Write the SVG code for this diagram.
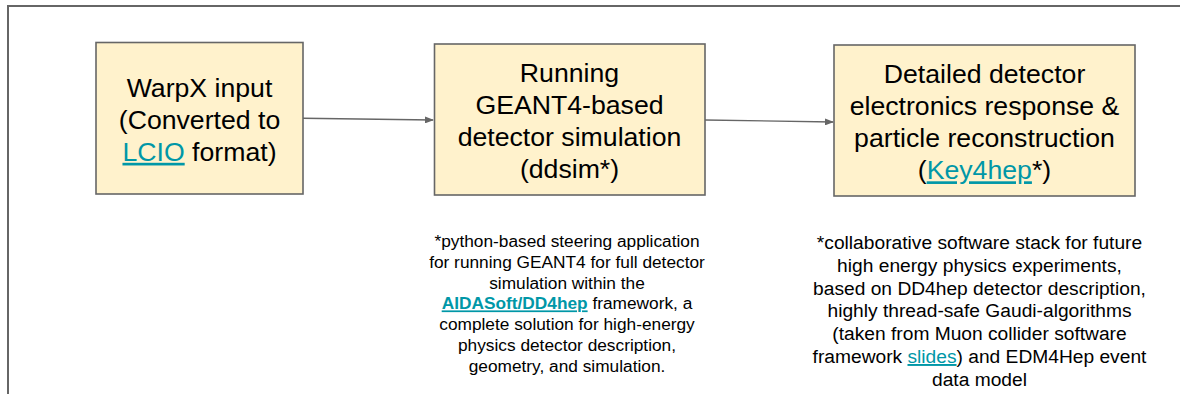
<svg xmlns="http://www.w3.org/2000/svg" width="1180" height="394" viewBox="0 0 1180 394">
<style>
.box{fill:#fff2cc;stroke:#666666;stroke-width:1.6}
.t{font-family:"Liberation Sans",Arial,sans-serif;font-size:26.67px;fill:#000;text-anchor:middle}
.n1{font-family:"Liberation Sans",Arial,sans-serif;font-size:17.3px;fill:#000;text-anchor:middle}
.n2{font-family:"Liberation Sans",Arial,sans-serif;font-size:19.2px;fill:#000;text-anchor:middle}
.link{fill:#0097a7;text-decoration:underline}
.b{font-weight:bold}
.conn{stroke:#666666;stroke-width:1.4;fill:none}
</style>
<defs>
<marker id="arr" markerUnits="userSpaceOnUse" markerWidth="9" markerHeight="7" refX="8" refY="3.5" orient="auto">
<path d="M0,0 L9,3.5 L0,7 z" fill="#666666"/>
</marker>
</defs>
<rect width="1180" height="394" fill="#ffffff"/>
<path d="M8,394 V6 H1180" fill="none" stroke="#666666" stroke-width="2"/>
<g id="connectors">
<line class="conn" x1="303" y1="118.3" x2="433" y2="120" marker-end="url(#arr)"/>
<line class="conn" x1="705" y1="120" x2="833" y2="122" marker-end="url(#arr)"/>
</g>
<g id="node-warpx">
<rect class="box" x="96" y="42.5" width="207" height="151.5"/>
<text class="t" x="199.5" y="96.8">WarpX input</text>
<text class="t" x="199.5" y="128.8">(Converted to</text>
<text class="t" x="199.5" y="160.8"><tspan class="link">LCIO</tspan> format)</text>
</g>
<g id="node-ddsim">
<rect class="box" x="434.5" y="44" width="270.5" height="151"/>
<text class="t" x="569.5" y="82.3">Running</text>
<text class="t" x="569.5" y="114.3">GEANT4-based</text>
<text class="t" x="569.5" y="146.3">detector simulation</text>
<text class="t" x="569.5" y="178.3">(ddsim*)</text>
</g>
<g id="node-key4hep">
<rect class="box" x="834" y="45" width="301" height="151"/>
<text class="t" x="984.5" y="83.3">Detailed detector</text>
<text class="t" x="984.5" y="115.3">electronics response &amp;</text>
<text class="t" x="984.5" y="147.3">particle reconstruction</text>
<text class="t" x="984.5" y="179.3">(<tspan class="link">Key4hep</tspan>*)</text>
</g>
<g id="note-ddsim">
<text class="n1" x="567" y="247">*python-based steering application</text>
<text class="n1" x="567" y="267.8">for running GEANT4 for full detector</text>
<text class="n1" x="567" y="288.6">simulation within the</text>
<text class="n1" x="567" y="309.4"><tspan class="link b">AIDASoft/DD4hep</tspan> framework, a</text>
<text class="n1" x="567" y="330.2">complete solution for high-energy</text>
<text class="n1" x="567" y="351">physics detector description,</text>
<text class="n1" x="567" y="371.8">geometry, and simulation.</text>
</g>
<g id="note-key4hep">
<text class="n2" x="979.5" y="249">*collaborative software stack for future</text>
<text class="n2" x="979.5" y="271.8">high energy physics experiments,</text>
<text class="n2" x="979.5" y="294.6">based on DD4hep detector description,</text>
<text class="n2" x="979.5" y="317.4">highly thread-safe Gaudi-algorithms</text>
<text class="n2" x="979.5" y="340.2">(taken from Muon collider software</text>
<text class="n2" x="979.5" y="363">framework <tspan class="link">slides</tspan>) and EDM4Hep event</text>
<text class="n2" x="979.5" y="385.8">data model</text>
</g>
</svg>
